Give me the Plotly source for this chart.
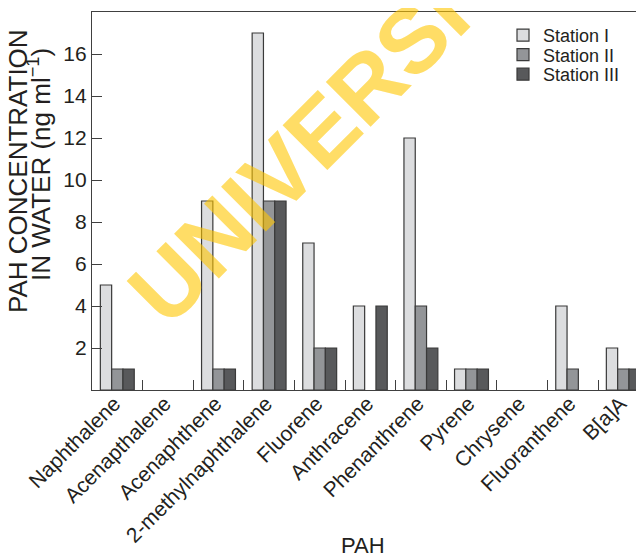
import plotly.graph_objects as go

categories = ["Naphthalene", "Acenapthalene", "Acenaphthene", "2-methylnaphthalene",
              "Fluorene", "Anthracene", "Phenanthrene", "Pyrene", "Chrysene",
              "Fluoranthene", "B[a]A"]
station_1 = [5, 0, 9, 17, 7, 4, 12, 1, 0, 4, 2]
station_2 = [1, 0, 1, 9, 2, 0, 4, 1, 0, 1, 1]
station_3 = [1, 0, 1, 9, 2, 4, 2, 1, 0, 0, 1]
series_names = ["Station I", "Station II", "Station III"]
y_ticks = [2, 4, 6, 8, 10, 12, 14, 16]

colors = ["#DCDDDF", "#939598", "#58595B"]
FONT = "Liberation Sans, Arial, sans-serif"
TXT = "#231F20"

# page body has an 8px margin; work in screen coordinates and convert
OFF = 8
W, H = 644 - OFF, 556 - OFF
L, T, B, R = 92 - OFF, 12 - OFF, 390 - OFF, 644 - OFF
PW, PH = R - L, B - T
CAT_W = 50.6


def px(xs):
    return (xs - OFF - L) / PW


def py(ys):
    return (B - (ys - OFF)) / PH


fig = go.Figure()
legend_ids = ["legend", "legend2", "legend3"]
for name, vals, col, lg in zip(series_names, [station_1, station_2, station_3], colors, legend_ids):
    fig.add_trace(go.Bar(x=categories, y=vals, name=name, legend=lg,
                         marker=dict(color=col,
                                     line=dict(color="#3A3A3A",
                                               width=[1.2 if v > 0 else 0 for v in vals]))))

leg_common = dict(x=px(503), xanchor="left", yanchor="top",
                  font=dict(size=18, family=FONT, color=TXT),
                  bgcolor="rgba(0,0,0,0)", itemwidth=30)

fig.update_layout(
    width=W, height=H,
    margin=dict(l=L, r=0, t=T, b=H - B),
    paper_bgcolor="white", plot_bgcolor="white",
    barmode="group", bargap=0.33, bargroupgap=0,
    font=dict(family=FONT, color=TXT),
    showlegend=True,
    legend=dict(y=py(17), **leg_common),
    legend2=dict(y=py(36.5), **leg_common),
    legend3=dict(y=py(56), **leg_common),
    xaxis=dict(range=[-0.5, -0.5 + PW / CAT_W], showline=True, linecolor="#404040", linewidth=1.3,
               mirror=True, ticks="inside", tickson="boundaries", ticklen=10,
               tickcolor="#404040", tickwidth=1.3, tickangle=-45, automargin=False,
               ticklabelstandoff=-8, ticklabelshift=-3,
               tickfont=dict(size=21, family=FONT, color=TXT), showgrid=False),
    yaxis=dict(range=[0, 18], showline=True, linecolor="#404040", linewidth=1.3,
               ticks="inside", ticklen=10, tickcolor="#404040", tickwidth=1.3,
               tickvals=y_ticks, tickfont=dict(size=21, family=FONT, color=TXT),
               showgrid=False, zeroline=False, automargin=False),
)

fig.add_annotation(text="PAH", xref="paper", yref="paper", x=px(363), y=py(545),
                   xanchor="center", yanchor="middle", showarrow=False,
                   font=dict(size=22, family=FONT, color=TXT))
fig.add_annotation(text="PAH CONCENTRATION", xref="paper", yref="paper",
                   x=px(18), y=py(171), textangle=-90,
                   xanchor="center", yanchor="middle", showarrow=False,
                   font=dict(size=26, family=FONT, color=TXT))
fig.add_annotation(text="IN WATER (ng ml<sup>−1</sup>)", xref="paper", yref="paper",
                   x=px(39), y=py(165), textangle=-90,
                   xanchor="center", yanchor="middle", showarrow=False,
                   font=dict(size=26, family=FONT, color=TXT))
# watermark
fig.add_annotation(text="<b>UNIVERSITY</b>", xref="paper", yref="paper",
                   x=px(340), y=py(112), textangle=-45,
                   xanchor="center", yanchor="middle", showarrow=False,
                   font=dict(size=92, family=FONT, color="rgba(255,198,0,0.6)"))

fig.write_html("out.html")
